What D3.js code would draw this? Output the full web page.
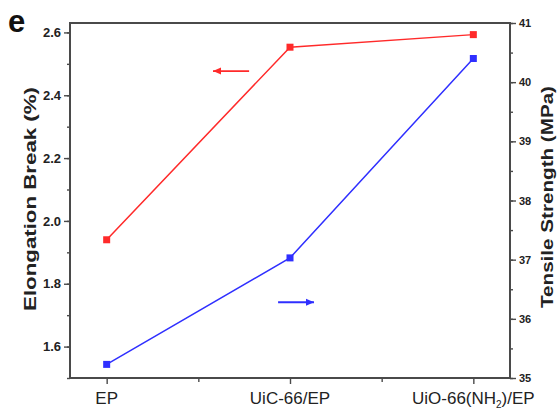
<!DOCTYPE html>
<html>
<head>
<meta charset="utf-8">
<script src="https://cdn.jsdelivr.net/npm/d3@7"></script>
<style>
  body { margin: 0; background: #fff; }
  text { font-family: Arial, "Liberation Sans", sans-serif; }
</style>
</head>
<body>
<div id="chart-area"></div>
<script>
// DATA
var categories = ["EP", "UiC-66/EP", "UiO-66(NH2)/EP"];
var elongation = [1.94, 2.553, 2.593];     // left axis, red
var tensile = [35.23, 37.03, 40.40];       // right axis, blue
var leftTicks = [1.6, 1.8, 2.0, 2.2, 2.4, 2.6];
var rightTicks = [35, 36, 37, 38, 39, 40, 41];

var W = 558, H = 409;
var margin = { left: 70, right: 48, top: 23, bottom: 31 };
var width = W - margin.left - margin.right,
    height = H - margin.top - margin.bottom;

var svg = d3.select("#chart-area").append("svg")
    .attr("width", W)
    .attr("height", H);

// Scales
var x = d3.scaleLinear().domain([-0.2, 2.2]).range([margin.left, margin.left + width]);
var yL = d3.scaleLinear().domain([1.5, 2.63]).range([margin.top + height, margin.top]);
var yR = d3.scaleLinear().domain([35, 41]).range([margin.top + height, margin.top]);

var axisColor = "#4a4a4a";
var red = "#ff2a2a", blue = "#2f2fff";

// Axes
var leftAxis = svg.append("g")
    .attr("transform", "translate(" + margin.left + ",0)")
    .call(d3.axisLeft(yL).tickValues(d3.range(1.5, 2.61, 0.1)).tickSize(3).tickFormat(""));
leftAxis.append("g")
    .call(d3.axisLeft(yL).tickValues(leftTicks).tickSize(6).tickFormat(d3.format(".1f")).tickPadding(3));

var rightAxis = svg.append("g")
    .attr("transform", "translate(" + (margin.left + width) + ",0)")
    .call(d3.axisRight(yR).tickValues(d3.range(35, 41.01, 0.5)).tickSize(3).tickFormat(""));
rightAxis.append("g")
    .call(d3.axisRight(yR).tickValues(rightTicks).tickSize(6).tickFormat(d3.format("d")).tickPadding(3));

var bottomAxis = svg.append("g")
    .attr("transform", "translate(0," + (margin.top + height) + ")")
    .call(d3.axisBottom(x).tickValues([0.5, 1.5]).tickSize(4).tickFormat(""));
bottomAxis.append("g")
    .call(d3.axisBottom(x).tickValues([0, 1, 2]).tickSize(6).tickFormat(""));

svg.selectAll(".domain").remove();
svg.selectAll(".tick line").attr("stroke", axisColor).attr("stroke-width", 1.4);
leftAxis.selectAll(".tick text")
    .attr("fill", "#222").style("font-size", "13px").style("font-weight", "bold");
rightAxis.selectAll(".tick text")
    .attr("fill", "#222").style("font-size", "11px").style("font-weight", "bold");

// category labels
var catText = svg.append("g").selectAll("text")
    .data(categories)
    .enter().append("text")
    .attr("x", (d, i) => x(i))
    .attr("y", margin.top + height + 26)
    .attr("text-anchor", "middle")
    .attr("fill", "#222")
    .style("font-size", "17px");
catText.each(function(d) {
    var t = d3.select(this);
    var m = d.match(/^(.*\()NH2(\).*)$/);
    if (m) {
        t.append("tspan").text(m[1] + "NH");
        t.append("tspan").attr("dy", 4).style("font-size", "10px").text("2");
        t.append("tspan").attr("dy", -4).text(m[2]);
    } else {
        t.text(d);
    }
});

// frame
svg.append("rect")
    .attr("x", margin.left).attr("y", margin.top)
    .attr("width", width).attr("height", height)
    .attr("fill", "none")
    .attr("stroke", axisColor)
    .attr("stroke-width", 2);

// lines
var lineL = d3.line().x((d, i) => x(i)).y(d => yL(d));
var lineR = d3.line().x((d, i) => x(i)).y(d => yR(d));

svg.append("path").datum(elongation)
    .attr("d", lineL).attr("fill", "none").attr("stroke", red).attr("stroke-width", 1.5);
svg.append("path").datum(tensile)
    .attr("d", lineR).attr("fill", "none").attr("stroke", blue).attr("stroke-width", 1.5);

svg.append("g").selectAll("rect")
    .data(elongation).enter().append("rect")
    .attr("x", (d, i) => x(i) - 3.5).attr("y", d => yL(d) - 3.5)
    .attr("width", 7).attr("height", 7).attr("fill", red);
svg.append("g").selectAll("rect")
    .data(tensile).enter().append("rect")
    .attr("x", (d, i) => x(i) - 3.5).attr("y", d => yR(d) - 3.5)
    .attr("width", 7).attr("height", 7).attr("fill", blue);

// arrows showing which axis each series uses
function arrow(x0, x1, y, color, dir) {
    svg.append("line")
        .attr("x1", x0).attr("x2", x1).attr("y1", y).attr("y2", y)
        .attr("stroke", color).attr("stroke-width", 1.8);
    var tip = dir < 0 ? x0 : x1;
    svg.append("path")
        .attr("d", "M" + tip + "," + y + "l" + (-dir * 8) + ",-3.5l0,7z")
        .attr("fill", color);
}
arrow(x(0.58), x(0.777), yL(2.477), red, -1);
arrow(x(0.935), x(1.131), yR(36.28), blue, 1);

// axis titles
svg.append("text")
    .attr("transform", "translate(36," + 199 + ") rotate(-90)")
    .attr("text-anchor", "middle")
    .attr("textLength", 224).attr("lengthAdjust", "spacingAndGlyphs")
    .style("font-size", "17px").style("font-weight", "bold").attr("fill", "#222")
    .text("Elongation Break (%)");

svg.append("text")
    .attr("transform", "translate(553," + 197 + ") rotate(-90)")
    .attr("text-anchor", "middle")
    .attr("textLength", 222).attr("lengthAdjust", "spacingAndGlyphs")
    .style("font-size", "16px").style("font-weight", "bold").attr("fill", "#222")
    .text("Tensile Strength (MPa)");

// panel letter
svg.append("text")
    .attr("x", 8).attr("y", 32)
    .style("font-size", "31px").style("font-weight", "bold").attr("fill", "#111")
    .text("e");
</script>
</body>
</html>
